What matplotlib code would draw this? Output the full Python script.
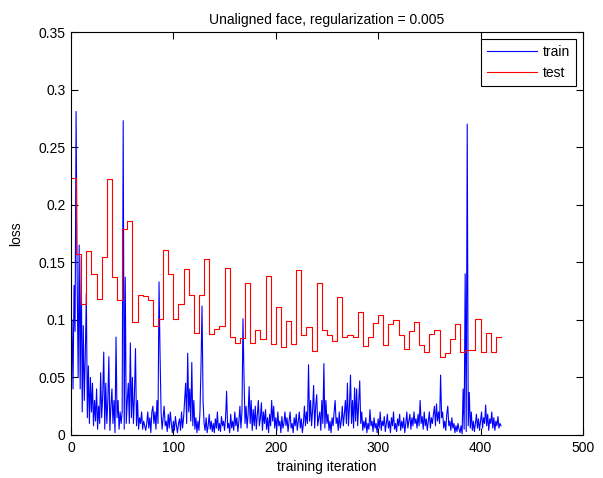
import numpy as np
import matplotlib
matplotlib.use('Agg')
import matplotlib.pyplot as plt

plt.rcParams['font.family'] = 'Liberation Sans'
plt.rcParams['font.size'] = 10
plt.rcParams['axes.linewidth'] = 0.8

# train loss, one value per iteration (0..420)
train_loss = [
    0.070, 0.100, 0.040, 0.130, 0.090, 0.281, 0.140, 0.050, 0.165, 0.040,
    0.155, 0.020, 0.095, 0.030, 0.070, 0.123, 0.015, 0.060, 0.010, 0.050,
    0.020, 0.045, 0.008, 0.030, 0.012, 0.040, 0.005, 0.025, 0.010, 0.054,
    0.015, 0.035, 0.072, 0.005, 0.045, 0.010, 0.030, 0.068, 0.004, 0.025,
    0.040, 0.010, 0.030, 0.002, 0.085, 0.015, 0.030, 0.005, 0.020, 0.010,
    0.020, 0.273, 0.005, 0.137, 0.010, 0.030, 0.045, 0.010, 0.080, 0.015,
    0.050, 0.010, 0.035, 0.075, 0.008, 0.030, 0.005, 0.015, 0.010, 0.020,
    0.005, 0.012, 0.008, 0.004, 0.010, 0.020, 0.006, 0.015, 0.002, 0.020,
    0.025, 0.010, 0.020, 0.005, 0.030, 0.010, 0.133, 0.070, 0.020, 0.005,
    0.015, 0.025, 0.008, 0.012, 0.003, 0.018, 0.006, 0.020, 0.010, 0.002,
    0.012, 0.004, 0.016, 0.008, 0.002, 0.010, 0.014, 0.004, 0.020, 0.006,
    0.015, 0.030, 0.045, 0.010, 0.071, 0.020, 0.040, 0.012, 0.063, 0.008,
    0.030, 0.005, 0.015, 0.002, 0.012, 0.004, 0.020, 0.060, 0.112, 0.030,
    0.010, 0.004, 0.015, 0.002, 0.008, 0.018, 0.005, 0.012, 0.003, 0.010,
    0.002, 0.014, 0.006, 0.020, 0.004, 0.010, 0.003, 0.016, 0.008, 0.012,
    0.004, 0.015, 0.038, 0.006, 0.010, 0.002, 0.018, 0.006, 0.012, 0.004,
    0.020, 0.008, 0.015, 0.003, 0.012, 0.025, 0.006, 0.020, 0.101, 0.050,
    0.010, 0.025, 0.006, 0.018, 0.042, 0.010, 0.030, 0.004, 0.022, 0.008,
    0.025, 0.005, 0.018, 0.030, 0.008, 0.015, 0.028, 0.004, 0.020, 0.010,
    0.022, 0.005, 0.015, 0.002, 0.018, 0.008, 0.030, 0.012, 0.025, 0.006,
    0.015, 0.004, 0.020, 0.008, 0.012, 0.002, 0.016, 0.006, 0.010, 0.020,
    0.008, 0.015, 0.003, 0.012, 0.020, 0.006, 0.010, 0.002, 0.015, 0.008,
    0.018, 0.004, 0.012, 0.020, 0.006, 0.014, 0.002, 0.010, 0.025, 0.008,
    0.020, 0.010, 0.061, 0.012, 0.030, 0.008, 0.022, 0.043, 0.006, 0.025,
    0.035, 0.008, 0.015, 0.020, 0.004, 0.030, 0.010, 0.062, 0.006, 0.030,
    0.010, 0.018, 0.004, 0.012, 0.002, 0.015, 0.008, 0.020, 0.030, 0.010,
    0.015, 0.004, 0.020, 0.006, 0.012, 0.025, 0.008, 0.018, 0.030, 0.010,
    0.045, 0.008, 0.025, 0.052, 0.010, 0.030, 0.006, 0.041, 0.012, 0.040,
    0.008, 0.028, 0.047, 0.010, 0.020, 0.004, 0.012, 0.006, 0.015, 0.002,
    0.010, 0.005, 0.022, 0.008, 0.012, 0.003, 0.015, 0.006, 0.010, 0.002,
    0.014, 0.006, 0.020, 0.004, 0.012, 0.008, 0.016, 0.003, 0.010, 0.018,
    0.006, 0.012, 0.002, 0.015, 0.008, 0.020, 0.005, 0.010, 0.003, 0.014,
    0.008, 0.018, 0.004, 0.012, 0.006, 0.015, 0.002, 0.010, 0.020, 0.006,
    0.012, 0.018, 0.005, 0.015, 0.008, 0.020, 0.010, 0.014, 0.006, 0.018,
    0.008, 0.030, 0.010, 0.016, 0.005, 0.020, 0.008, 0.014, 0.004, 0.012,
    0.020, 0.006, 0.015, 0.010, 0.018, 0.025, 0.008, 0.027, 0.012, 0.020,
    0.010, 0.052, 0.015, 0.020, 0.006, 0.012, 0.004, 0.018, 0.025, 0.008,
    0.012, 0.004, 0.015, 0.006, 0.010, 0.002, 0.008, 0.003, 0.010, 0.005,
    0.002, 0.008, 0.001, 0.040, 0.005, 0.140, 0.003, 0.270, 0.008, 0.037,
    0.006, 0.020, 0.004, 0.012, 0.003, 0.010, 0.018, 0.006, 0.014, 0.004,
    0.012, 0.020, 0.006, 0.015, 0.010, 0.026, 0.008, 0.018, 0.004, 0.014,
    0.010, 0.020, 0.006, 0.015, 0.004, 0.012, 0.008, 0.016, 0.006, 0.010,
    0.008,
]

# test loss, evaluated every 5 iterations (last value repeated to close the step)
test_every = 5
test_loss = [
    0.223, 0.157, 0.114, 0.160, 0.140, 0.118, 0.155, 0.222, 0.137, 0.117,
    0.179, 0.186, 0.098, 0.122, 0.121, 0.117, 0.095, 0.101, 0.161, 0.140,
    0.101, 0.114, 0.144, 0.122, 0.089, 0.122, 0.153, 0.088, 0.092, 0.095,
    0.145, 0.085, 0.080, 0.084, 0.132, 0.080, 0.091, 0.083, 0.138, 0.079,
    0.111, 0.076, 0.099, 0.079, 0.143, 0.087, 0.094, 0.073, 0.132, 0.091,
    0.087, 0.082, 0.120, 0.085, 0.087, 0.085, 0.107, 0.077, 0.085, 0.097,
    0.104, 0.078, 0.096, 0.100, 0.087, 0.075, 0.090, 0.098, 0.078, 0.072,
    0.088, 0.091, 0.068, 0.071, 0.083, 0.096, 0.072, 0.074, 0.074, 0.101,
    0.072, 0.089, 0.072, 0.085, 0.085,
]

xticks = [0, 100, 200, 300, 400, 500]
yticks = [0, 0.05, 0.1, 0.15, 0.2, 0.25, 0.3, 0.35]
ytick_labels = ['0', '0.05', '0.1', '0.15', '0.2', '0.25', '0.3', '0.35']

train_iter = np.arange(len(train_loss))
test_iter = np.arange(len(test_loss)) * test_every

fig = plt.figure(figsize=(6.03, 4.78), dpi=100)
ax = fig.add_axes([0.1177, 0.09, 0.849, 0.843])

ax.plot(train_iter, train_loss, color='#0000ff', linewidth=0.8, label='train')
ax.plot(test_iter, test_loss, color='#ff0000', linewidth=0.8,
        drawstyle='steps-post', label='test')

ax.set_xlim(0, 500)
ax.set_ylim(0, 0.35)
ax.set_xticks(xticks)
ax.set_yticks(yticks)
ax.set_yticklabels(ytick_labels)

# matlab style: ticks inside on all four sides
ax.tick_params(direction='in', length=5, width=0.8, top=True, right=True,
               labelsize=10, pad=4)

ax.set_title('Unaligned face, regularization = 0.005', fontsize=10, pad=6)
ax.set_xlabel('training iteration', fontsize=10, labelpad=4)
ax.set_ylabel('loss', fontsize=10, labelpad=11)

leg = ax.legend(loc='upper right', fontsize=10, handlelength=3.6,
                labelspacing=0.5, borderaxespad=0.5, fancybox=False,
                framealpha=1, edgecolor='black', borderpad=0.45,
                handletextpad=0.4)
leg.get_frame().set_linewidth(0.8)

plt.savefig('out.png', dpi=100)
